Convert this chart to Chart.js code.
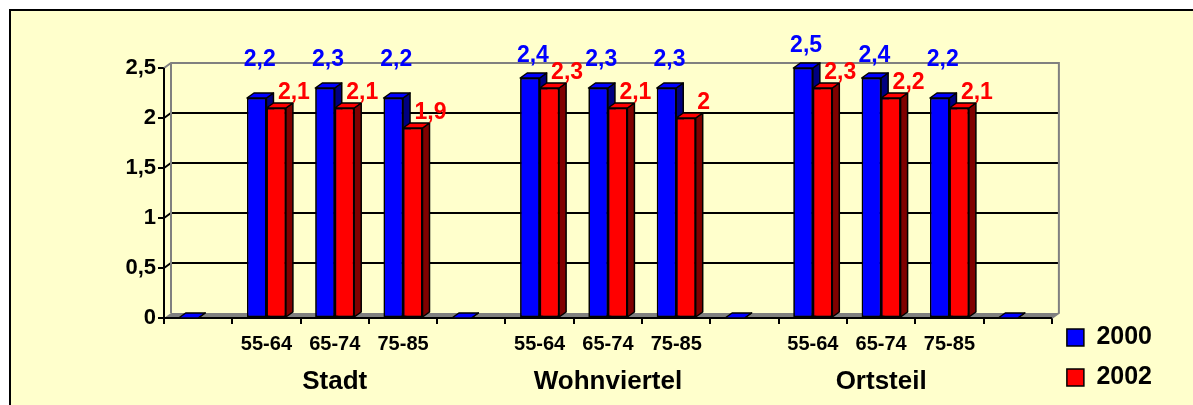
<!DOCTYPE html>
<html>
<head>
<meta charset="utf-8">
<script src="https://cdn.jsdelivr.net/npm/chart.js@4.4.0/dist/chart.umd.min.js"></script>
<style>
html, body { margin: 0; padding: 0; background: #fff; width: 1193px; height: 405px; overflow: hidden; }
#frame { position: absolute; left: 9px; top: 9px; width: 1200px; height: 420px; border: 2px solid #000; background: #ffffcc; }
#wrap { position: absolute; left: 0; top: 0; width: 1193px; height: 405px; }
</style>
</head>
<body>
<div id="frame"></div>
<div id="wrap"><canvas id="chart"></canvas></div>
<script>
// categories: age groups, with an empty slot between the areas
const ageGroups = ["", "55-64", "65-74", "75-85", "", "55-64", "65-74", "75-85", "", "55-64", "65-74", "75-85", ""];
const areas = ["Stadt", "Wohnviertel", "Ortsteil"];
const areaMiddle = [2, 6, 10]; // middle age group of each area
const values2000 = [0, 2.2, 2.3, 2.2, 0, 2.4, 2.3, 2.3, 0, 2.5, 2.4, 2.2, 0];
const values2002 = [null, 2.1, 2.1, 1.9, null, 2.3, 2.1, 2.0, null, 2.3, 2.2, 2.1, null];
const yTicks = [0, 0.5, 1, 1.5, 2, 2.5];

const FONT = "'Liberation Sans', Arial, sans-serif";
const DX = 7, DY = -5; // depth of the 3d look
const sideColors = ["#000080", "#800000"];
const topColors = ["#0000ff", "#ff0000"];
const labelColors = ["#0000ff", "#ff0000"];

const fmt = v => String(v).replace(".", ",");

function poly(ctx, pts) {
    ctx.beginPath();
    ctx.moveTo(pts[0][0], pts[0][1]);
    for (let i = 1; i < pts.length; i++) ctx.lineTo(pts[i][0], pts[i][1]);
    ctx.closePath();
    ctx.fill();
    ctx.stroke();
}

const walls = {
    id: "walls",
    beforeDatasetsDraw(chart) {
        const { ctx, chartArea: a, scales: { y } } = chart;
        ctx.save();
        // floor
        ctx.fillStyle = "#808080";
        ctx.beginPath();
        ctx.moveTo(a.left, a.bottom);
        ctx.lineTo(a.left + DX, a.bottom + DY);
        ctx.lineTo(a.right + DX, a.bottom + DY);
        ctx.lineTo(a.right, a.bottom);
        ctx.closePath();
        ctx.fill();
        // grid lines on the back wall
        ctx.strokeStyle = "#000";
        ctx.lineWidth = 2;
        y.ticks.forEach(t => {
            if (t.value === y.min || t.value === y.max) return;
            const py = y.getPixelForValue(t.value);
            ctx.beginPath();
            ctx.moveTo(a.left, py);
            ctx.lineTo(a.left + DX, py + DY);
            ctx.lineTo(a.right + DX, py + DY);
            ctx.stroke();
        });
        // wall outline
        ctx.strokeStyle = "#808080";
        ctx.beginPath();
        ctx.moveTo(a.left, a.top);
        ctx.lineTo(a.left + DX, a.top + DY);
        ctx.lineTo(a.right + DX, a.top + DY);
        ctx.lineTo(a.right + DX, a.bottom + DY);
        ctx.lineTo(a.right, a.bottom);
        ctx.moveTo(a.left + DX, a.top + DY);
        ctx.lineTo(a.left + DX, a.bottom + DY);
        ctx.stroke();
        // front axis lines again
        ctx.strokeStyle = "#000";
        ctx.beginPath();
        ctx.moveTo(a.left, a.top);
        ctx.lineTo(a.left, a.bottom);
        ctx.lineTo(a.right, a.bottom);
        ctx.stroke();
        ctx.restore();
    },
    afterDatasetsDraw(chart) {
        const ctx = chart.ctx;
        ctx.save();
        ctx.strokeStyle = "#000";
        ctx.lineWidth = 1.5;
        ctx.lineJoin = "round";
        chart.data.datasets.forEach((ds, di) => {
            chart.getDatasetMeta(di).data.forEach((bar, i) => {
                if (ds.data[i] == null) return;
                const { x, y, base, width } = bar.getProps(["x", "y", "base", "width"], true);
                const l = x - width / 2, r = x + width / 2;
                ctx.fillStyle = sideColors[di];
                poly(ctx, [[r, y], [r + DX, y + DY], [r + DX, base + DY], [r, base]]);
                ctx.fillStyle = topColors[di];
                poly(ctx, [[l, y], [l + DX, y + DY], [r + DX, y + DY], [r, y]]);
                bar.draw(ctx);
            });
        });
        // value labels
        const top = chart.chartArea.top;
        ctx.font = "bold 23px " + FONT;
        ctx.textAlign = "center";
        ctx.textBaseline = "middle";
        chart.data.datasets.forEach((ds, di) => {
            ctx.fillStyle = labelColors[di];
            chart.getDatasetMeta(di).data.forEach((bar, i) => {
                const v = ds.data[i];
                if (!v) return;
                if (di === 0) {
                    ctx.fillText(fmt(v), bar.x + 3, Math.min(bar.y - 22, top - 8));
                } else {
                    ctx.fillText(fmt(v), bar.x + bar.width / 2 + 8, bar.y - 15);
                }
            });
        });
        ctx.restore();
    },
    afterDraw(chart) {
        const { ctx, chartArea: a, scales: { x } } = chart;
        ctx.save();
        ctx.font = "bold 26px " + FONT;
        ctx.fillStyle = "#000";
        ctx.textAlign = "center";
        ctx.textBaseline = "middle";
        areas.forEach((name, k) => {
            ctx.fillText(name, x.getPixelForValue(areaMiddle[k]), a.bottom + 64);
        });
        ctx.restore();
    }
};

new Chart(document.getElementById("chart"), {
    type: "bar",
    data: {
        labels: ageGroups,
        datasets: [
            {
                label: "2000",
                data: values2000,
                backgroundColor: "#0000ff",
                borderColor: "#000",
                borderWidth: 1.5,
                borderSkipped: false
            },
            {
                label: "2002",
                data: values2002,
                backgroundColor: "#ff0000",
                borderColor: "#000",
                borderWidth: 1.5,
                borderSkipped: false
            }
        ]
    },
    options: {
        responsive: true,
        maintainAspectRatio: false,
        animation: false,
        categoryPercentage: 0.57,
        barPercentage: 1,
        layout: { padding: { left: 64, top: 68, right: 31, bottom: 0 } },
        plugins: {
            tooltip: { enabled: false },
            legend: {
                position: "right",
                align: "end",
                labels: {
                    boxWidth: 17,
                    boxHeight: 17,
                    padding: 15,
                    color: "#000",
                    font: { family: FONT, size: 25, weight: "bold" }
                }
            }
        },
        scales: {
            x: {
                grid: { drawOnChartArea: false, drawTicks: true, tickLength: 6, tickColor: "#000", lineWidth: 2, offset: true },
                border: { display: true, color: "#000", width: 2 },
                ticks: {
                    autoSkip: false,
                    maxRotation: 0,
                    padding: 8,
                    color: "#000",
                    font: { family: FONT, size: 20, weight: "bold" }
                },
                afterFit: s => { s.height = 87; }
            },
            y: {
                min: 0,
                max: 2.5,
                afterBuildTicks: s => { s.ticks = yTicks.map(v => ({ value: v })); },
                grid: { drawOnChartArea: false, drawTicks: true, tickLength: 6, tickColor: "#000", lineWidth: 2 },
                border: { display: true, color: "#000", width: 2 },
                ticks: {
                    padding: 2,
                    color: "#000",
                    font: { family: FONT, size: 22, weight: "bold" },
                    callback: v => fmt(v)
                },
                afterFit: s => { s.width = 100; }
            }
        }
    },
    plugins: [walls]
});
</script>
</body>
</html>
